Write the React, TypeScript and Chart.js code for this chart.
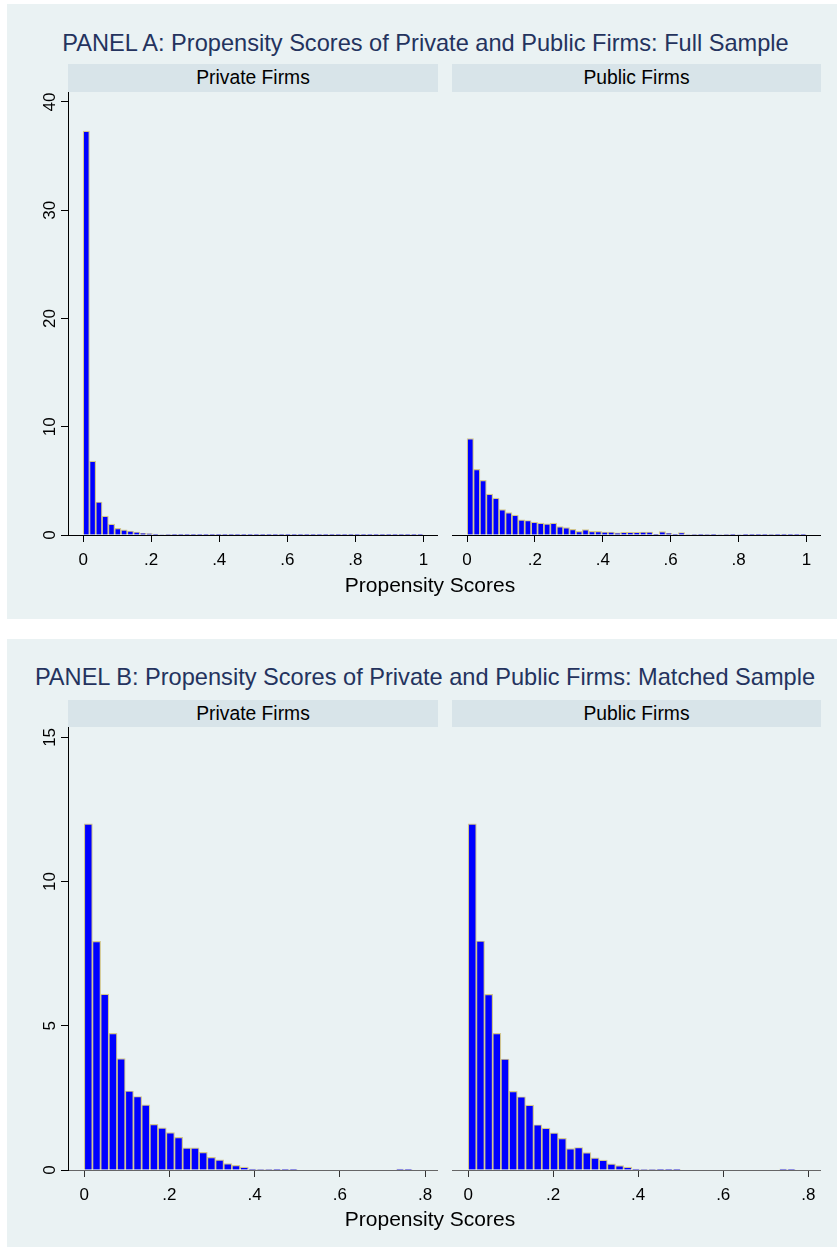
import React, { useEffect, useRef } from 'react';
import { Chart, registerables } from 'chart.js';

Chart.register(...registerables);

// ---------------- DATA ----------------
// Panel A (full sample) histogram densities, bins starting at 0
const FULL_PRIVATE_BIN_WIDTH = 1 / 54;
const FULL_PRIVATE = [
  37.3, 6.82, 3.05, 1.74, 1.0, 0.62, 0.47, 0.37, 0.28, 0.16,
  0.12, 0.08, 0.05, 0.04, 0.03, 0.03, 0.02, 0.02, 0.02, 0.01,
  0.01, 0.01, 0.01, 0.01, 0.01, 0.01, 0.01, 0.01, 0.01, 0.01,
  0.01, 0.01, 0.01, 0.01, 0.01, 0.01, 0.01, 0.01, 0.01, 0.01,
  0.01, 0.01, 0.01, 0.01, 0.01, 0.01, 0.01, 0.02, 0.01, 0.01,
  0.01, 0.01, 0.01, 0.01,
];
const FULL_PUBLIC_BIN_WIDTH = 1 / 53;
const FULL_PUBLIC = [
  8.91, 6.07, 5.05, 3.77, 3.4, 2.34, 2.06, 1.84, 1.4, 1.34,
  1.18, 1.09, 1.03, 1.09, 0.78, 0.69, 0.53, 0.34, 0.5, 0.34,
  0.34, 0.28, 0.28, 0.19, 0.25, 0.25, 0.25, 0.28, 0.28, 0.06,
  0.31, 0.16, 0.06, 0.22, 0.05, 0.04, 0.03, 0.04, 0.06, 0.05,
  0.04, 0.03, 0.05, 0.03, 0.03, 0.02, 0.03, 0.04, 0.06, 0.08,
  0.07, 0.03, 0.02,
];
// Panel B (matched sample)
const MATCHED_BIN_WIDTH = 0.01925;
const MATCHED_PRIVATE = [
  12.0, 7.93, 6.1, 4.74, 3.86, 2.74, 2.55, 2.26, 1.58, 1.46,
  1.3, 1.13, 0.77, 0.77, 0.61, 0.44, 0.35, 0.22, 0.16, 0.1,
  0.03, 0.02, 0.02, 0.01, 0.01, 0.01, 0.0, 0.0, 0.0, 0.0,
  0.0, 0.0, 0.0, 0.0, 0.0, 0.0, 0.0, 0.0, 0.03, 0.01,
  0.0,
];
const MATCHED_PUBLIC = [
  12.0, 7.94, 6.09, 4.74, 3.85, 2.73, 2.54, 2.25, 1.57, 1.45,
  1.29, 1.1, 0.74, 0.78, 0.6, 0.42, 0.34, 0.21, 0.15, 0.1,
  0.03, 0.02, 0.02, 0.01, 0.01, 0.01, 0.0, 0.0, 0.0, 0.0,
  0.0, 0.0, 0.0, 0.0, 0.0, 0.0, 0.0, 0.0, 0.03, 0.01,
  0.0,
];

const FULL_X_TICKS = [0, 0.2, 0.4, 0.6, 0.8, 1];
const FULL_X_LABELS = ['0', '.2', '.4', '.6', '.8', '1'];
const MATCHED_X_TICKS = [0, 0.2, 0.4, 0.6, 0.8];
const MATCHED_X_LABELS = ['0', '.2', '.4', '.6', '.8'];
const FULL_Y_TICKS = [0, 10, 20, 30, 40];
const MATCHED_Y_TICKS = [0, 5, 10, 15];

const TITLE_A = 'PANEL A: Propensity Scores of Private and Public Firms: Full Sample';
const TITLE_B = 'PANEL B: Propensity Scores of Private and Public Firms: Matched Sample';
const STRIP_LEFT = 'Private Firms';
const STRIP_RIGHT = 'Public Firms';
const X_TITLE = 'Propensity Scores';

// ---------------- STYLE / LAYOUT ----------------
const FONT = '"Liberation Sans", Arial, Helvetica, sans-serif';
const BG = '#eaf2f3';
const STRIP_BG = '#d8e4e9';
const GRID = '#eaf2f3';
const BAR_FILL = '#0000ff';
const BAR_EDGE = '#d2c68e';
const TITLE_COLOR = '#24335e';
const Y_AXIS_W = 40;
const X_AXIS_H = 45;

Chart.defaults.font.family = FONT;

type HistProps = {
  left: number;
  top: number;
  plotW: number;
  plotH: number;
  values: number[];
  binWidth: number;
  xTicks: number[];
  xLabels: string[];
  yTicks: number[];
  xMin: number;
  xMax: number;
  yMax: number;
  showY: boolean;
  axisColor: string;
  tickColor: string;
};

function Histogram(p: HistProps) {
  const ref = useRef<HTMLCanvasElement | null>(null);
  const yw = p.showY ? Y_AXIS_W : 0;
  const w = p.plotW + yw;
  const h = p.plotH + X_AXIS_H;
  useEffect(() => {
    if (!ref.current) return;
    const points = p.values.map((v, i) => ({ x: (i + 0.5) * p.binWidth, y: v }));
    const chart = new Chart(ref.current, {
      type: 'bar',
      data: {
        datasets: [
          {
            data: points as any,
            backgroundColor: BAR_FILL,
            borderColor: BAR_EDGE,
            borderWidth: 1.2,
            barPercentage: 1,
            categoryPercentage: 1,
          },
        ],
      },
      options: {
        animation: false,
        responsive: false,
        maintainAspectRatio: false,
        devicePixelRatio: 1,
        layout: { padding: 0 },
        plugins: {
          legend: { display: false },
          tooltip: { enabled: false },
          title: { display: false },
        },
        scales: {
          x: {
            type: 'linear',
            min: p.xMin,
            max: p.xMax,
            offset: false,
            afterBuildTicks: (s: any) => {
              s.ticks = p.xTicks.map((v) => ({ value: v }));
            },
            afterFit: (s: any) => {
              s.height = X_AXIS_H;
              s.paddingLeft = 0;
              s.paddingRight = 0;
            },
            ticks: {
              autoSkip: false,
              maxRotation: 0,
              minRotation: 0,
              color: '#000',
              padding: 8,
              font: { size: 17, family: FONT },
              callback: (v: any) => {
                const idx = p.xTicks.findIndex((t) => Math.abs(t - Number(v)) < 1e-9);
                return idx >= 0 ? p.xLabels[idx] : '';
              },
            },
            grid: {
              display: true,
              drawOnChartArea: false,
              drawTicks: true,
              tickLength: 7,
              tickColor: p.tickColor,
              offset: false,
            },
            border: { display: true, color: p.axisColor, width: 1, z: 1 },
          },
          y: {
            type: 'linear',
            min: 0,
            max: p.yMax,
            afterBuildTicks: (s: any) => {
              s.ticks = p.yTicks.map((v) => ({ value: v }));
            },
            afterFit: (s: any) => {
              s.width = yw;
              s.paddingTop = 0;
              s.paddingBottom = 0;
            },
            ticks: {
              display: p.showY,
              autoSkip: false,
              minRotation: 90,
              maxRotation: 90,
              crossAlign: 'center',
              padding: 1,
              color: '#000',
              font: { size: 17, family: FONT },
              callback: (v: any) => String(v),
            },
            grid: {
              color: GRID,
              lineWidth: 1,
              drawTicks: p.showY,
              tickLength: 7,
              tickColor: '#000',
            },
            border: { display: p.showY, color: '#000', width: 1, z: 1 },
          },
        },
      } as any,
    });
    return () => chart.destroy();
  }, []);
  return (
    <canvas
      ref={ref}
      width={w}
      height={h}
      style={{ position: 'absolute', left: p.left - yw, top: p.top, width: w, height: h }}
    />
  );
}

function Text(props: {
  text: string;
  cx: number;
  cy: number;
  size: number;
  color?: string;
  w?: number;
}) {
  const L = Math.round(props.size * 1.6);
  const w = props.w ?? 800;
  return (
    <div
      style={{
        position: 'absolute',
        left: props.cx - w / 2,
        top: props.cy - L / 2,
        width: w,
        height: L,
        lineHeight: L + 'px',
        fontSize: props.size,
        fontFamily: FONT,
        color: props.color ?? '#000',
        textAlign: 'center',
        whiteSpace: 'nowrap',
      }}
    >
      {props.text}
    </div>
  );
}

function Strip(props: { left: number; top: number; width: number; height: number; text: string }) {
  return (
    <div
      style={{
        position: 'absolute',
        left: props.left,
        top: props.top,
        width: props.width,
        height: props.height,
        background: STRIP_BG,
        fontFamily: FONT,
        fontSize: 19.3,
        lineHeight: props.height + 'px',
        textAlign: 'center',
        color: '#000',
        whiteSpace: 'nowrap',
      }}
    >
      {props.text}
    </div>
  );
}

export default function App() {
  const LX = 68;
  const RX = 452;
  const PW_L = 370;
  const PW_R = 369;
  return (
    <div
      style={{
        position: 'absolute',
        left: 0,
        top: 0,
        width: 837,
        height: 1247,
        background: '#fff',
        overflow: 'hidden',
      }}
    >
      {/* Panel A */}
      <div style={{ position: 'absolute', left: 7, top: 4, width: 830, height: 615, background: BG }} />
      <Text text={TITLE_A} cx={425.5} cy={42.5} size={23.6} color={TITLE_COLOR} />
      <Strip left={LX} top={64} width={PW_L} height={28} text={STRIP_LEFT} />
      <Strip left={RX} top={64} width={PW_R} height={28} text={STRIP_RIGHT} />
      <Histogram
        left={LX} top={92} plotW={PW_L} plotH={443}
        values={FULL_PRIVATE} binWidth={FULL_PRIVATE_BIN_WIDTH}
        xTicks={FULL_X_TICKS} xLabels={FULL_X_LABELS} yTicks={FULL_Y_TICKS}
        xMin={-0.0445} xMax={1.043} yMax={40.92} showY={true}
        axisColor="#000" tickColor="#000"
      />
      <Histogram
        left={RX} top={92} plotW={PW_R} plotH={443}
        values={FULL_PUBLIC} binWidth={FULL_PUBLIC_BIN_WIDTH}
        xTicks={FULL_X_TICKS} xLabels={FULL_X_LABELS} yTicks={FULL_Y_TICKS}
        xMin={-0.0445} xMax={1.043} yMax={40.92} showY={false}
        axisColor="#000" tickColor="#000"
      />
      <Text text={X_TITLE} cx={430} cy={585} size={21} />

      {/* Panel B */}
      <div style={{ position: 'absolute', left: 7, top: 639, width: 830, height: 608, background: BG }} />
      <Text text={TITLE_B} cx={425} cy={677} size={23.6} color={TITLE_COLOR} />
      <Strip left={LX} top={700} width={PW_L} height={27} text={STRIP_LEFT} />
      <Strip left={RX} top={700} width={PW_R} height={27} text={STRIP_RIGHT} />
      <Histogram
        left={LX} top={727} plotW={PW_L} plotH={443}
        values={MATCHED_PRIVATE} binWidth={MATCHED_BIN_WIDTH}
        xTicks={MATCHED_X_TICKS} xLabels={MATCHED_X_LABELS} yTicks={MATCHED_Y_TICKS}
        xMin={-0.038} xMax={0.83} yMax={15.36} showY={true}
        axisColor="#666" tickColor="#333"
      />
      <Histogram
        left={RX} top={727} plotW={PW_R} plotH={443}
        values={MATCHED_PUBLIC} binWidth={MATCHED_BIN_WIDTH}
        xTicks={MATCHED_X_TICKS} xLabels={MATCHED_X_LABELS} yTicks={MATCHED_Y_TICKS}
        xMin={-0.038} xMax={0.83} yMax={15.36} showY={false}
        axisColor="#666" tickColor="#333"
      />
      <Text text={X_TITLE} cx={430} cy={1219} size={21} />
    </div>
  );
}
